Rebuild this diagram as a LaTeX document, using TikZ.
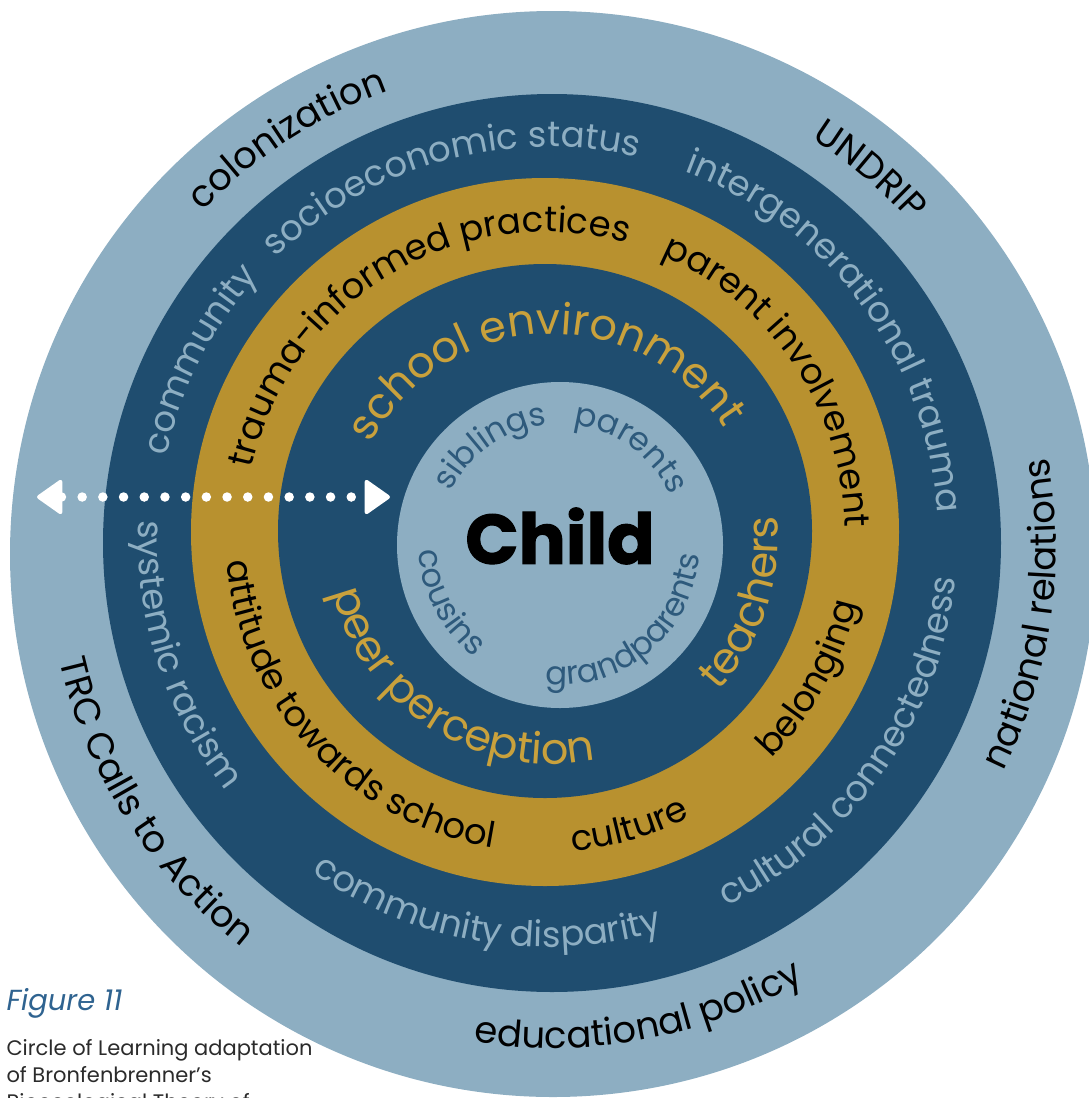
\documentclass[tikz,border=0pt]{standalone}
\usepackage{fontspec}
\setmainfont{Poppins}
\newfontfamily\heavyfont[FakeBold=1.6]{Poppins Bold}
\usetikzlibrary{arrows.meta, decorations.text}

\definecolor{paleblue}{HTML}{8DAEC2}
\definecolor{navy}{HTML}{1F4D6F}
\definecolor{ochre}{HTML}{B8912F}
\definecolor{ochretext}{HTML}{C9A13C}
\definecolor{kinblue}{HTML}{2E5A7C}
\definecolor{capblue}{HTML}{2F6390}
\definecolor{captext}{HTML}{2B2B2B}

% label fonts, one per ring
\newcommand{\outerfnt}{\fontsize{37}{40}\selectfont}
\newcommand{\bandfnt}{\fontsize{35.5}{38}\selectfont}
\newcommand{\schoolfnt}{\fontsize{43}{46}\selectfont}
\newcommand{\kinfnt}{\fontsize{32.5}{34}\selectfont}

% text bent round a centre: over = read clockwise, under = counter-clockwise
\newcommand{\overarc}[4]{%
  \path[decorate, decoration={text along path, text align=center, text={#4}}]
    (#1) ++(#3+85:#2) arc[start angle=#3+85, end angle=#3-85, radius=#2];}
\newcommand{\underarc}[4]{%
  \path[decorate, decoration={text along path, text align=center, text={#4}}]
    (#1) ++(#3-85:#2) arc[start angle=#3-85, end angle=#3+85, radius=#2];}

\begin{document}
\begin{tikzpicture}[x=1pt, y=1pt,
    dotarrow/.style={white, line width=9.5pt, line cap=round,
      dash pattern=on 0pt off 20.7pt,
      {Triangle[round, length=27pt, width=37pt, line width=4pt]}-{Triangle[round, length=27pt, width=37pt, line width=4pt]}},
    caption/.style={anchor=base west, text=captext, font=\fontsize{21}{27}\selectfont},
  ]
  \useasboundingbox (0,0) rectangle (1089,-1098);
  \clip (0,0) rectangle (1089,-1098);

  % rings, outside in
  \fill[paleblue] (553,-554) circle[radius=543];
  \fill[navy]     (552,-543) circle[radius=449];
  \fill[ochre]    (545,-532) circle[radius=354];
  \fill[navy]     (545,-531) circle[radius=267];
  \fill[paleblue] (560,-545) circle[radius=163];

  % centres the labels run round
  \coordinate (policy) at (553,-548);
  \coordinate (society) at (548,-537);
  \coordinate (school) at (545,-532);
  \coordinate (micro) at (552,-538);
  \coordinate (family) at (560,-545);

  % outer ring
  \begin{scope}[decoration={text color=black}]
    \overarc{policy}{486}{123}{|\outerfnt|colonization}
    \overarc{policy}{484}{50}{|\outerfnt|UNDRIP}
    \underarc{policy}{503}{-8}{|\outerfnt|national relations}
    \underarc{policy}{500}{-79.5}{|\outerfnt|educational policy}
    \underarc{policy}{506}{212.5}{|\outerfnt|TRC Calls to Action}
  \end{scope}

  % dark ring
  \begin{scope}[decoration={text color=paleblue}]
    \overarc{society}{390}{153}{|\bandfnt|community}
    \overarc{society}{390}{105.5}{|\bandfnt|socioeconomic status}
    \overarc{society}{390}{36.5}{|\bandfnt|intergenerational trauma}
    \underarc{society}{410}{-35}{|\bandfnt|cultural connectedness}
    \underarc{society}{410}{-99.5}{|\bandfnt|community disparity}
    \underarc{society}{410}{198}{|\bandfnt|systemic racism}
  \end{scope}

  % gold ring
  \begin{scope}[decoration={text color=black}]
    \overarc{school}{300}{121}{|\bandfnt|trauma-informed practices}
    \overarc{school}{300}{34}{|\bandfnt|parent involvement}
    \underarc{school}{320}{-29}{|\bandfnt|belonging}
    \underarc{school}{320}{-74}{|\bandfnt|culture}
    \underarc{school}{320}{223}{|\bandfnt|attitude towards school}
  \end{scope}

  % inner dark ring
  \begin{scope}[decoration={text color=ochretext}]
    \overarc{micro}{204}{92.5}{|\schoolfnt|school environment}
    \underarc{micro}{226}{-18.5}{|\schoolfnt|teachers}
    \underarc{micro}{226}{237.5}{|\schoolfnt|peer perception}
  \end{scope}

  % family
  \begin{scope}[decoration={text color=kinblue}]
    \overarc{family}{121}{125}{|\kinfnt|siblings}
    \overarc{family}{121}{54}{|\kinfnt|parents}
    \underarc{family}{140}{-50}{|\kinfnt|grandparents}
    \underarc{family}{141}{207.5}{|\kinfnt|cousins}
  \end{scope}
  \node[font=\fontsize{70}{80}\heavyfont] (child) at (560,-536) {Child};

  % two-way dotted arrow
  \coordinate (westtip) at (37,-497);
  \coordinate (easttip) at (390,-497);
  \draw[dotarrow] (westtip) -- (easttip);

  % caption
  \node[anchor=base west, text=capblue, font=\fontsize{29}{30}\selectfont\itshape]
    (fignum) at (3,-1010) {Figure 11};
  \node[caption] (cap1) at (3,-1055) {Circle of Learning adaptation};
  \node[caption] (cap2) at (3,-1082) {of Bronfenbrenner's};
  \node[caption] (cap3) at (3,-1109) {Bioecological Theory of};
\end{tikzpicture}
\end{document}
